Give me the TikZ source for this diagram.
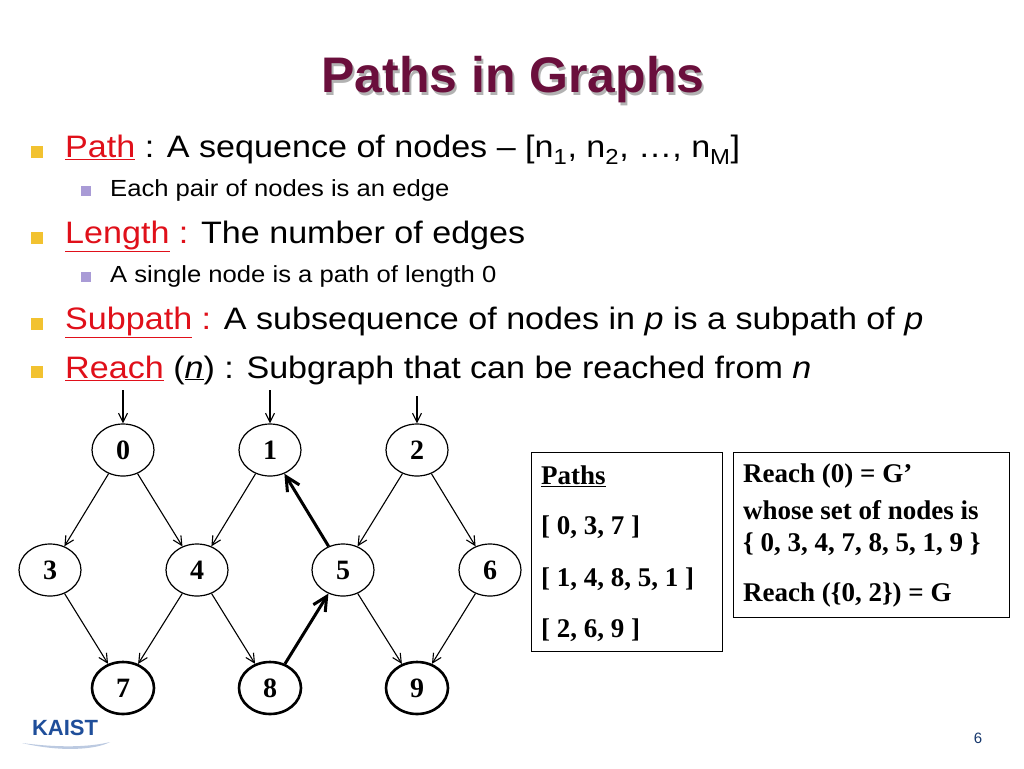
\documentclass[tikz,border=0pt]{standalone}
\usepackage{fontspec}
\setmainfont{Liberation Sans}
\newfontfamily\tnr{Liberation Serif}
\usetikzlibrary{shapes.geometric,arrows.meta}
\definecolor{titlec}{HTML}{6A0F3C}
\definecolor{redc}{HTML}{E0101A}
\definecolor{bulY}{HTML}{F2C230}
\definecolor{bulP}{HTML}{A99BD6}
\definecolor{kblue}{HTML}{1F4E9A}
\tikzset{
 gn/.style={ellipse,draw,line width=1.2pt,minimum width=62pt,minimum height=52pt,inner sep=0pt,font=\tnr\bfseries\fontsize{28}{28}\selectfont},
 gb/.style={gn,line width=2.6pt},
 ed/.style={-{Straight Barb[length=9pt,width=9pt]},line width=1.1pt},
 edb/.style={-{Straight Barb[length=14pt,width=14pt]},line width=3pt},
 txt/.style={anchor=west,inner sep=0pt,xscale=1.1,font=\fontsize{31}{31}\selectfont},
 stxt/.style={anchor=west,inner sep=0pt,xscale=1.1,font=\fontsize{23.3}{23.3}\selectfont},
 bt/.style={anchor=west,inner sep=0pt,font=\tnr\bfseries\fontsize{27}{27}\selectfont}
}
\begin{document}
\begin{tikzpicture}[x=1pt,y=-1pt]
\useasboundingbox[fill=white] (0,0) rectangle (1024,768);
% title
\node[text=gray!60,font=\bfseries\fontsize{50}{50}\selectfont] at (515,83) {Paths in Graphs};
\node[text=titlec,font=\bfseries\fontsize{50}{50}\selectfont] (title) at (513,80) {Paths in Graphs};
% bullets
\foreach \y in {152,238,324,372} \fill[bulY] (31,\y-6) rectangle (43,\y+6);
\foreach \y in {191,277} \fill[bulP] (81,\y-5) rectangle (91,\y+5);
\node[txt] (l1) at (65,150) {\textcolor{redc}{\underline{Path}} : A sequence of nodes -- [n\textsubscript{1}, n\textsubscript{2}, …, n\textsubscript{M}]};
\node[stxt] (l2) at (110,190) {Each pair of nodes is an edge};
\node[txt] (l3) at (65,236) {\textcolor{redc}{\underline{Length} :} The number of edges};
\node[stxt] (l4) at (110,276) {A single node is a path of length 0};
\node[txt] (l5) at (65,322) {\textcolor{redc}{\underline{Subpath} :} A subsequence of nodes in \textit{p} is a subpath of \textit{p}};
\node[txt] (l6) at (65,370) {\textcolor{redc}{\underline{Reach}} (\underline{\textit{n}}) : Subgraph that can be reached from \textit{n}};
% graph
\node[gn] (n0) at (123,450) {0};
\node[gn] (n1) at (270,450) {1};
\node[gn] (n2) at (417,450) {2};
\node[gn] (n3) at (50,570) {3};
\node[gn] (n4) at (197,570) {4};
\node[gn] (n5) at (343,570) {5};
\node[gn] (n6) at (490,570) {6};
\node[gb] (n7) at (123,688) {7};
\node[gb] (n8) at (270,688) {8};
\node[gb] (n9) at (417,688) {9};
\coordinate (s0) at (123,390);\coordinate (s1) at (270,390);\coordinate (s2) at (417,396);
\draw[ed] (s0) -- (n0);\draw[ed] (s1) -- (n1);\draw[ed] (s2) -- (n2);
\draw[ed] (n0) -- (n3);\draw[ed] (n0) -- (n4);\draw[ed] (n1) -- (n4);
\draw[ed] (n2) -- (n5);\draw[ed] (n2) -- (n6);
\draw[ed] (n3) -- (n7);\draw[ed] (n4) -- (n7);\draw[ed] (n4) -- (n8);
\draw[ed] (n5) -- (n9);\draw[ed] (n6) -- (n9);
\draw[edb] (n8) -- (n5);\draw[edb] (n5) -- (n1);
% boxes
\draw[line width=1pt] (531,452) rectangle (722,651);
\node[bt] (p0) at (541,476) {\underline{Paths}};
\node[bt] (p1) at (541,527) {[ 0, 3, 7 ]};
\node[bt] (p2) at (541,579) {[ 1, 4, 8, 5, 1 ]};
\node[bt] (p3) at (541,630) {[ 2, 6, 9 ]};
\draw[line width=1pt] (733,452) rectangle (1009,617);
\node[bt] (r1) at (743,476) {Reach (0) = G’};
\node[bt] (r2) at (743,510) {whose set of nodes is};
\node[bt] (r3) at (743,544) {\{ 0, 3, 4, 7, 8, 5, 1, 9 \}};
\node[bt] (r4) at (743,595) {Reach (\{0, 2\}) = G};
% logo and page
\fill[kblue!30] (22,743) .. controls (60,752) and (95,750) .. (110,742) .. controls (90,747) and (60,748) .. (22,743);
\node[text=kblue,font=\bfseries\fontsize{22}{22}\selectfont,inner sep=0pt] (logo) at (65,728) {KAIST};
\node[font=\fontsize{15}{15}\selectfont,text=kblue!70!black] (pg) at (978,738) {6};
\end{tikzpicture}
\end{document}
